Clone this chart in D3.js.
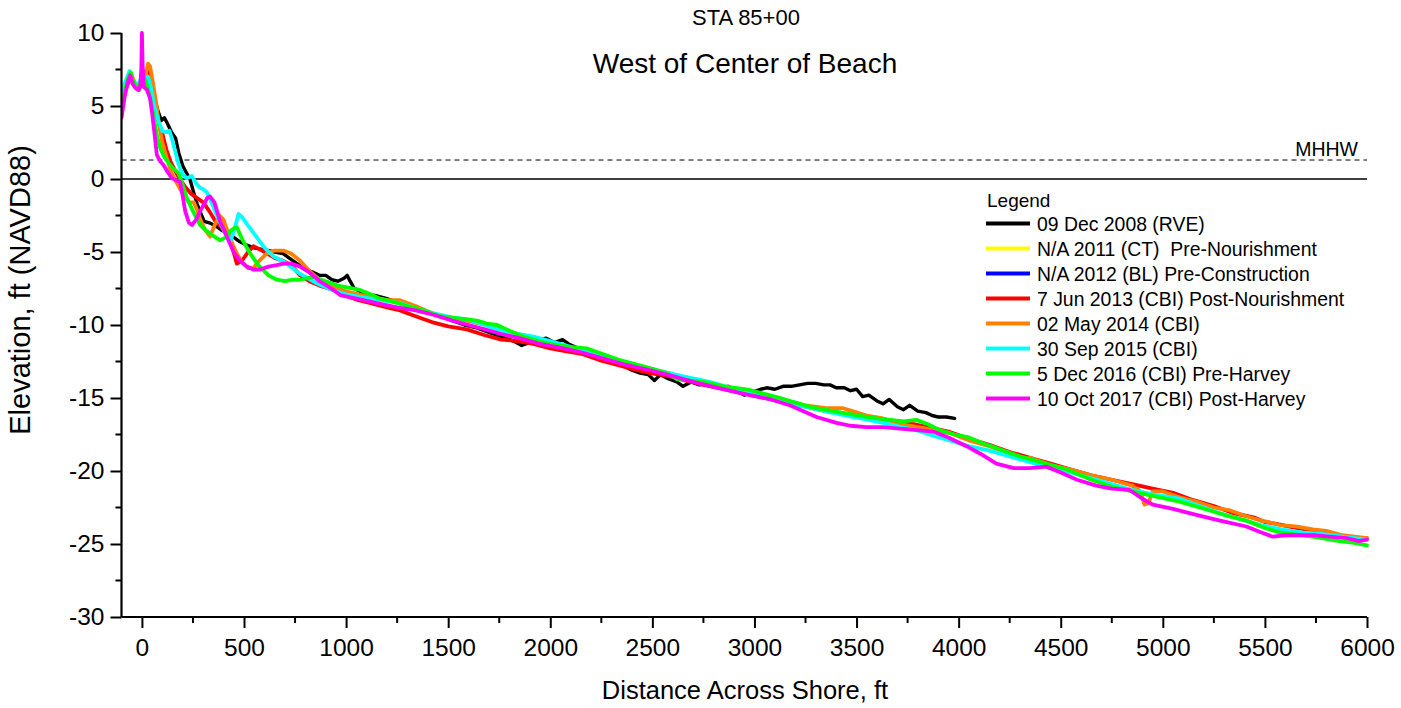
<!DOCTYPE html>
<html>
<head>
<meta charset="utf-8">
<script src="https://cdn.jsdelivr.net/npm/d3@7"></script>
<style>
  html, body { margin: 0; padding: 0; background: #fff; }
  svg { display: block; font-family: "Liberation Sans", Arial, sans-serif; }
</style>
</head>
<body>
<svg id="chart" width="1401" height="708"></svg>
<script>
// ---------- data ----------
const titleLine1 = "STA 85+00";
const titleLine2 = "West of Center of Beach";
const xLabel = "Distance Across Shore, ft";
const yLabel = "Elevation, ft (NAVD88)";
const xTicks = [0, 500, 1000, 1500, 2000, 2500, 3000, 3500, 4000, 4500, 5000, 5500, 6000];
const yTicks = [10, 5, 0, -5, -10, -15, -20, -25, -30];
const mhhw = 1.3;

const seriesNames = [
  "09 Dec 2008 (RVE)",
  "N/A 2011 (CT)  Pre-Nourishment",
  "N/A 2012 (BL) Pre-Construction",
  "7 Jun 2013 (CBI) Post-Nourishment",
  "02 May 2014 (CBI)",
  "30 Sep 2015 (CBI)",
  "5 Dec 2016 (CBI) Pre-Harvey",
  "10 Oct 2017 (CBI) Post-Harvey"
];
const seriesColors = ["#000000", "#ffff00", "#0000ff", "#ff0000", "#ff8000", "#00ffff", "#00ff00", "#ff00ff"];

const dec2008 = [[-100,5.6],[-75,6.6],[-55,7.2],[-40,6.6],[-20,6.3],[-5,6.4],[5,7.0],[20,6.6],[40,6.5],[60,5.6],[80,4.6],[95,4.0],[110,4.2],[125,3.8],[145,3.2],[165,2.8],[180,1.8],[200,0.9],[215,0.5],[235,0.0],[255,-1.0],[270,-1.7],[290,-2.4],[305,-2.9],[330,-3.0],[360,-3.2],[390,-3.5],[420,-3.7],[450,-4.0],[480,-4.3],[510,-4.5],[545,-4.7],[580,-4.8],[615,-4.9],[650,-5.0],[690,-5.1],[720,-5.4],[760,-5.8],[800,-6.2],[840,-6.4],[870,-6.6],[900,-6.6],[930,-6.9],[960,-7.0],[990,-6.8],[1005,-6.6],[1020,-7.0],[1040,-7.5],[1100,-7.9],[1150,-8.0],[1200,-8.2],[1260,-8.5],[1320,-8.8],[1400,-9.1],[1460,-9.4],[1520,-9.7],[1580,-10.0],[1640,-10.2],[1700,-10.5],[1760,-10.8],[1820,-11.1],[1860,-11.4],[1900,-11.2],[1950,-11.0],[1980,-10.9],[2020,-11.2],[2060,-11.0],[2090,-11.3],[2120,-11.5],[2180,-11.8],[2240,-12.1],[2300,-12.5],[2360,-12.8],[2400,-13.1],[2440,-13.3],[2480,-13.4],[2510,-13.8],[2540,-13.4],[2580,-13.7],[2620,-13.9],[2650,-14.2],[2690,-13.9],[2730,-14.1],[2780,-14.0],[2820,-14.3],[2870,-14.2],[2910,-14.5],[2950,-14.8],[2990,-14.6],[3030,-14.4],[3060,-14.3],[3100,-14.4],[3140,-14.2],[3180,-14.2],[3220,-14.1],[3260,-14.0],[3300,-14.0],[3340,-14.1],[3370,-14.1],[3400,-14.3],[3440,-14.3],[3470,-14.5],[3500,-14.4],[3530,-14.9],[3560,-14.8],[3600,-15.2],[3630,-15.4],[3660,-15.1],[3700,-15.6],[3730,-15.8],[3760,-15.5],[3800,-15.9],[3840,-16.0],[3870,-16.2],[3900,-16.3],[3940,-16.3],[3980,-16.4]];
const na2011 = [];
const na2012 = [];
const jun2013 = [[-100,5.3],[-75,6.3],[-55,7.0],[-35,6.4],[-15,6.1],[0,6.6],[20,7.4],[35,7.5],[50,6.5],[65,5.3],[80,4.0],[100,3.1],[120,2.0],[140,1.2],[165,0.5],[190,-0.1],[215,-0.6],[240,-1.0],[270,-1.3],[300,-1.6],[330,-2.2],[360,-2.9],[390,-3.3],[420,-3.9],[445,-4.8],[465,-5.8],[490,-5.6],[520,-5.0],[546,-4.6],[575,-4.8],[612,-5.1],[650,-5.4],[690,-5.6],[730,-5.9],[775,-6.6],[820,-7.0],[870,-7.3],[938,-7.6],[1000,-8.0],[1060,-8.3],[1120,-8.5],[1200,-8.8],[1264,-9.0],[1340,-9.4],[1420,-9.8],[1500,-10.1],[1591,-10.3],[1680,-10.7],[1760,-11.0],[1840,-11.1],[1917,-11.3],[2000,-11.6],[2080,-11.8],[2160,-12.0],[2240,-12.4],[2320,-12.7],[2400,-13.0],[2489,-13.3],[2580,-13.5],[2660,-13.8],[2750,-14.1],[2850,-14.4],[2950,-14.7],[3050,-15.0],[3150,-15.3],[3250,-15.6],[3350,-15.9],[3450,-16.1],[3550,-16.3],[3650,-16.5],[3750,-16.7],[3850,-17.0],[3950,-17.3],[4050,-17.8],[4150,-18.2],[4250,-18.7],[4350,-19.1],[4450,-19.5],[4550,-19.9],[4650,-20.3],[4750,-20.6],[4850,-20.9],[4950,-21.2],[5050,-21.5],[5150,-22.0],[5250,-22.4],[5350,-22.9],[5450,-23.2],[5500,-23.5],[5550,-23.6],[5650,-23.9],[5750,-24.1],[5850,-24.4],[5950,-24.6],[6000,-24.6]];
const may2014 = [[-100,5.8],[-75,6.7],[-55,7.3],[-35,6.6],[-15,6.3],[0,6.6],[15,6.9],[30,7.9],[40,7.7],[55,6.5],[70,5.2],[85,3.6],[100,2.5],[120,1.5],[140,0.6],[160,0.0],[180,-0.5],[200,-1.0],[230,-1.6],[255,-1.6],[269,-2.1],[290,-2.9],[310,-3.5],[334,-3.95],[355,-3.2],[380,-2.5],[400,-2.8],[420,-3.6],[445,-4.5],[465,-5.1],[490,-5.7],[520,-6.1],[546,-6.1],[575,-5.6],[612,-5.1],[650,-4.9],[693,-4.9],[730,-5.1],[775,-5.6],[820,-6.3],[870,-6.9],[930,-7.3],[1000,-7.7],[1060,-7.9],[1130,-8.1],[1200,-8.3],[1264,-8.3],[1340,-8.7],[1420,-9.2],[1500,-9.5],[1591,-9.7],[1680,-10.0],[1760,-10.3],[1840,-10.6],[1917,-10.9],[2000,-11.2],[2080,-11.5],[2160,-11.8],[2240,-12.1],[2320,-12.4],[2400,-12.7],[2489,-13.0],[2580,-13.3],[2660,-13.6],[2750,-13.9],[2850,-14.2],[2950,-14.6],[3050,-14.9],[3150,-15.2],[3250,-15.5],[3350,-15.7],[3434,-15.7],[3480,-15.9],[3550,-16.2],[3630,-16.4],[3720,-16.8],[3800,-17.0],[3880,-17.2],[3956,-17.4],[4050,-17.9],[4150,-18.3],[4250,-18.8],[4300,-19.2],[4350,-19.1],[4450,-19.6],[4550,-19.9],[4650,-20.3],[4750,-20.6],[4850,-21.0],[4890,-21.4],[4910,-22.3],[4930,-22.2],[4950,-21.4],[5000,-21.4],[5082,-21.8],[5164,-22.1],[5250,-22.5],[5330,-22.7],[5409,-23.1],[5480,-23.4],[5520,-23.5],[5572,-23.7],[5650,-23.8],[5735,-24.0],[5800,-24.1],[5880,-24.4],[5940,-24.5],[6000,-24.6]];
const sep2015 = [[-100,6.0],[-80,6.7],[-60,7.4],[-45,6.7],[-25,6.4],[-10,6.7],[0,6.9],[15,6.8],[30,7.0],[45,6.2],[60,5.0],[80,4.0],[100,3.3],[115,3.2],[135,3.3],[150,2.6],[165,1.8],[180,1.0],[200,0.3],[220,0.05],[245,0.2],[265,-0.3],[285,-0.6],[300,-0.7],[318,-0.9],[340,-1.6],[367,-2.5],[390,-3.2],[410,-3.8],[432,-4.3],[450,-3.6],[473,-2.4],[490,-2.6],[520,-3.2],[563,-4.0],[600,-4.7],[644,-5.3],[700,-5.7],[775,-6.5],[850,-7.1],[930,-7.6],[1000,-7.9],[1080,-8.1],[1170,-8.3],[1264,-8.5],[1350,-8.9],[1430,-9.2],[1520,-9.5],[1591,-9.6],[1680,-10.0],[1760,-10.4],[1840,-10.6],[1917,-10.8],[2000,-11.1],[2100,-11.5],[2200,-11.9],[2300,-12.3],[2400,-12.7],[2489,-13.0],[2580,-13.3],[2680,-13.6],[2780,-13.9],[2880,-14.3],[2980,-14.7],[3080,-15.1],[3180,-15.4],[3280,-15.7],[3380,-16.0],[3480,-16.3],[3560,-16.5],[3630,-16.7],[3720,-17.0],[3793,-17.2],[3880,-17.6],[3956,-17.9],[4050,-18.3],[4150,-18.6],[4250,-19.0],[4350,-19.4],[4450,-19.8],[4550,-20.1],[4650,-20.5],[4750,-20.9],[4850,-21.3],[4950,-21.6],[5082,-21.9],[5180,-22.4],[5280,-22.9],[5380,-23.3],[5480,-23.7],[5580,-24.0],[5680,-24.2],[5780,-24.3],[5880,-24.5],[6000,-24.7]];
const dec2016 = [[-100,4.3],[-85,6.0],[-65,7.0],[-55,7.3],[-40,6.6],[-20,6.2],[-5,6.6],[10,7.0],[25,6.4],[40,5.6],[55,4.5],[73,3.0],[90,2.1],[110,1.5],[130,1.1],[155,0.7],[179,0.4],[200,-0.4],[220,-1.3],[250,-2.2],[285,-3.15],[320,-3.6],[350,-3.9],[383,-4.2],[410,-4.0],[430,-3.6],[449,-3.4],[465,-3.3],[490,-4.1],[530,-5.1],[570,-5.9],[620,-6.6],[661,-6.9],[700,-7.0],[740,-6.9],[775,-6.9],[840,-6.7],[900,-7.0],[960,-7.3],[1068,-7.6],[1120,-7.9],[1166,-8.2],[1230,-8.4],[1300,-8.7],[1380,-9.0],[1460,-9.4],[1520,-9.5],[1580,-9.6],[1640,-9.7],[1689,-9.9],[1740,-10.0],[1786,-10.3],[1850,-10.7],[1917,-11.0],[2000,-11.3],[2090,-11.5],[2178,-11.6],[2260,-12.0],[2340,-12.4],[2420,-12.7],[2500,-13.0],[2570,-13.3],[2620,-13.7],[2680,-13.8],[2750,-13.9],[2850,-14.2],[2977,-14.45],[3100,-14.9],[3222,-15.4],[3300,-15.7],[3385,-15.9],[3470,-16.1],[3549,-16.3],[3600,-16.4],[3663,-16.5],[3730,-16.6],[3793,-16.5],[3850,-16.8],[3908,-17.2],[3980,-17.5],[4050,-17.7],[4119,-18.1],[4200,-18.5],[4300,-19.0],[4430,-19.5],[4530,-19.9],[4650,-20.6],[4756,-21.1],[4850,-21.4],[4950,-21.7],[5082,-22.1],[5180,-22.5],[5300,-23.0],[5409,-23.4],[5500,-23.9],[5572,-24.2],[5680,-24.4],[5780,-24.6],[5865,-24.8],[5930,-24.9],[6000,-25.1]];
const oct2017 = [[-100,4.2],[-85,5.6],[-70,6.6],[-57,7.1],[-45,6.5],[-30,6.2],[-18,6.1],[-8,6.4],[-3,7.5],[0,10.0],[4,7.5],[10,6.3],[25,6.1],[40,5.5],[49,4.6],[60,3.3],[73,1.65],[90,1.2],[106,0.96],[125,0.5],[147,0.05],[170,-0.1],[187,-0.2],[200,-1.2],[212,-2.2],[230,-3.0],[245,-3.15],[265,-2.8],[285,-2.2],[305,-1.7],[320,-1.3],[334,-1.2],[355,-1.6],[383,-2.9],[415,-3.9],[449,-5.0],[480,-5.6],[514,-6.0],[545,-6.2],[579,-6.2],[620,-6.0],[660,-5.9],[693,-5.8],[730,-5.8],[775,-6.0],[820,-6.4],[870,-7.0],[938,-7.6],[971,-7.95],[1050,-8.2],[1150,-8.5],[1250,-8.8],[1340,-9.0],[1427,-9.3],[1520,-9.7],[1600,-10.0],[1680,-10.3],[1754,-10.6],[1850,-10.9],[1950,-11.3],[2064,-11.6],[2160,-11.9],[2260,-12.3],[2360,-12.7],[2489,-13.1],[2600,-13.5],[2700,-13.9],[2820,-14.3],[2977,-14.8],[3080,-15.1],[3173,-15.5],[3240,-15.9],[3304,-16.3],[3402,-16.7],[3470,-16.9],[3549,-17.0],[3630,-17.0],[3712,-17.1],[3800,-17.2],[3875,-17.3],[3950,-17.7],[4038,-18.3],[4104,-18.8],[4185,-19.5],[4270,-19.8],[4348,-19.8],[4430,-19.7],[4500,-20.1],[4580,-20.6],[4674,-21.0],[4750,-21.2],[4837,-21.3],[4900,-21.9],[4951,-22.3],[5050,-22.6],[5164,-23.0],[5280,-23.4],[5409,-23.8],[5480,-24.2],[5539,-24.5],[5600,-24.4],[5653,-24.4],[5740,-24.4],[5816,-24.5],[5900,-24.6],[5960,-24.8],[6000,-24.7]];

const seriesData = [dec2008, na2011, na2012, jun2013, may2014, sep2015, dec2016, oct2017];

// ---------- layout ----------
const svg = d3.select("#chart");
const mLeft = 121.5, mRight = 1367, mTop = 33, mBottom = 617;
const x = d3.scaleLinear().domain([-100, 6000]).range([mLeft, mRight]);
const y = d3.scaleLinear().domain([-30, 10]).range([mBottom, mTop]);

// titles
svg.append("text").attr("x", 746).attr("y", 25).attr("text-anchor", "middle")
  .attr("font-size", 22).text(titleLine1);
svg.append("text").attr("x", 745).attr("y", 73).attr("text-anchor", "middle")
  .attr("font-size", 28).text(titleLine2);

// reference lines
svg.append("line").attr("x1", mLeft).attr("x2", mRight).attr("y1", y(0)).attr("y2", y(0))
  .attr("stroke", "#000").attr("stroke-width", 1.3);
svg.append("line").attr("x1", mLeft).attr("x2", mRight).attr("y1", y(mhhw)).attr("y2", y(mhhw))
  .attr("stroke", "#000").attr("stroke-width", 1).attr("stroke-dasharray", "5,4");
svg.append("text").attr("x", 1358).attr("y", y(mhhw) - 4).attr("text-anchor", "end")
  .attr("font-size", 19.5).text("MHHW");

// series
const line = d3.line().x(d => x(d[0])).y(d => y(d[1]));
svg.append("clipPath").attr("id", "plotclip").append("rect")
  .attr("x", mLeft).attr("y", mTop - 5).attr("width", mRight - mLeft + 3).attr("height", mBottom - mTop + 5);
const gLines = svg.append("g").attr("clip-path", "url(#plotclip)");
seriesData.forEach((data, i) => {
  if (!data.length) return;
  gLines.append("path").datum(data).attr("d", line)
    .attr("fill", "none").attr("stroke", seriesColors[i])
    .attr("stroke-width", i === 0 ? 3.4 : 3.8)
    .attr("stroke-linejoin", "round").attr("stroke-linecap", "round");
});

// axes
const fmt = d => String(d);
const yAxis = d3.axisLeft(y).tickValues(yTicks).tickSize(11).tickPadding(6).tickFormat(fmt);
const gy = svg.append("g").attr("transform", `translate(${mLeft},0)`).call(yAxis);
const yMinor = d3.range(-27.5, 10, 5);
gy.selectAll(".minor").data(yMinor).enter().append("line").attr("class", "minor")
  .attr("x1", -6).attr("x2", 0).attr("y1", d => y(d)).attr("y2", d => y(d)).attr("stroke", "#000").attr("stroke-width", 2);

const xAxis = d3.axisBottom(x).tickValues(xTicks).tickSize(11).tickPadding(11).tickFormat(fmt);
const gx = svg.append("g").attr("transform", `translate(0,${mBottom})`).call(xAxis);
const xMinor = d3.range(250, 6000, 500);
gx.selectAll(".minor").data(xMinor).enter().append("line").attr("class", "minor")
  .attr("x1", d => x(d)).attr("x2", d => x(d)).attr("y1", 0).attr("y2", 6).attr("stroke", "#000").attr("stroke-width", 2);

[gx, gy].forEach(g => {
  g.select(".domain").attr("stroke", "#000").attr("stroke-width", 2.2);
  g.selectAll(".tick line").attr("stroke", "#000").attr("stroke-width", 2);
  g.selectAll(".tick text").attr("font-size", 24.5).attr("fill", "#000")
    .attr("font-family", "'Liberation Sans', Arial, sans-serif");
});
gy.select(".domain").attr("d", `M0,${mTop}V${mBottom}`);
gx.select(".domain").attr("d", `M${mLeft},0H${mRight}`);

// axis labels
svg.append("text").attr("x", 745).attr("y", 699).attr("text-anchor", "middle")
  .attr("font-size", 25.5).text(xLabel);
svg.append("text").attr("transform", `translate(30,290) rotate(-90)`)
  .attr("text-anchor", "middle").attr("font-size", 29).text(yLabel);

// legend
const lg = svg.append("g");
lg.append("text").attr("x", 987).attr("y", 207).attr("font-size", 19).text("Legend");
seriesNames.forEach((name, i) => {
  const yy = 223.5 + i * 25;
  lg.append("line").attr("x1", 986).attr("x2", 1030).attr("y1", yy).attr("y2", yy)
    .attr("stroke", seriesColors[i]).attr("stroke-width", 4);
  lg.append("text").attr("x", 1037).attr("y", yy + 7).attr("font-size", 19.4)
    .attr("xml:space", "preserve").style("white-space", "pre").text(name);
});
</script>
</body>
</html>
